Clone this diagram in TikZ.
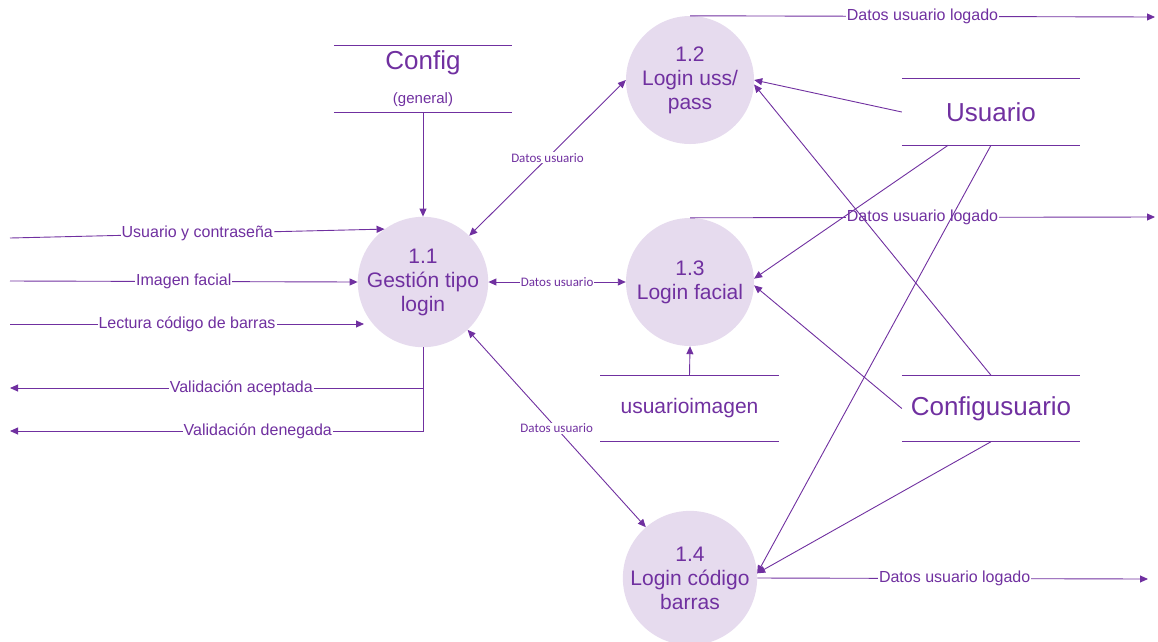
\documentclass[tikz,border=0pt]{standalone}
\usepackage{fontspec}
\setmainfont{Liberation Sans}
\newfontfamily\narrowsans{Carlito}
\usetikzlibrary{arrows.meta,calc}
\definecolor{dfdpurple}{HTML}{7030A0}
\definecolor{procfill}{HTML}{E6DBEE}
\begin{document}
\begin{tikzpicture}[x=1pt,y=-1pt,
  every node/.style={text=dfdpurple},
  process/.style={circle, fill=procfill, minimum size=128pt, inner sep=0pt,
    align=center, font=\fontsize{21}{24}\selectfont},
  store/.style={minimum width=178pt, minimum height=66pt, inner sep=0pt,
    font=\fontsize{26}{30}\selectfont},
  storeline/.style={draw=dfdpurple, line width=1.1pt},
  tip/.tip={Triangle[length=8pt,width=7pt]},
  flow/.style={draw=dfdpurple, line width=0.9pt, -tip},
  biflow/.style={draw=dfdpurple, line width=0.9pt, tip-tip},
  flowlabel/.style={fill=white, inner sep=1pt, font=\fontsize{16}{18}\selectfont},
  minilabel/.style={fill=white, inner sep=1pt, font=\narrowsans\fontsize{13}{15}\selectfont},
]
\useasboundingbox (0,0) rectangle (1158,641);

% processes
\node[process] (p11) at (423,282) {1.1\\Gestión tipo\\login};
\node[process] (p12) at (690,80) {1.2\\Login uss/\\pass};
\node[process] (p13) at (690,282) {1.3\\Login facial};
\node[process] (p14) at (690,578) {1.4\\Login código\\barras};

% data stores
\node[store] (cfg) at (423,79) {};
\draw[storeline] (cfg.north west) -- (cfg.north east) (cfg.south west) -- (cfg.south east);
\node[font=\fontsize{26}{30}\selectfont] (cfgname) at (423,63) {Config};
\node[font=\fontsize{15}{18}\selectfont] (cfgsub) at (423,100) {(general)};

\node[store] (us) at (991,112) {Usuario};
\draw[storeline] (us.north west) -- (us.north east) (us.south west) -- (us.south east);

\node[store, font=\fontsize{21}{24}\selectfont] (ui) at (689.5,408.5) {usuarioimagen};
\draw[storeline] (ui.north west) -- (ui.north east) (ui.south west) -- (ui.south east);

\node[store] (cu) at (991,408.5) {Configusuario};
\draw[storeline] (cu.north west) -- (cu.north east) (cu.south west) -- (cu.south east);

% external inputs
\coordinate (inA) at (10,238);
\coordinate (inB) at (10,281);
\coordinate (inC) at (10,324);
\coordinate (inCend) at (364,324);
\draw[flow] (inA) -- node[flowlabel]{Usuario y contraseña} (p11.126);
\draw[flow] (inB) -- node[flowlabel]{Imagen facial} (p11.west);
\draw[flow] (inC) -- node[flowlabel]{Lectura código de barras} (inCend);

% external outputs of 1.1
\coordinate (outA) at (10,388);
\coordinate (outB) at (10,431);
\draw[flow] (p11.south) |- node[flowlabel,pos=0.72]{Validación aceptada} (outA);
\draw[flow] (p11.south) |- node[flowlabel,pos=0.70]{Validación denegada} (outB);

% configuration into 1.1
\draw[flow] (cfg.south) -- (p11.north);

% 1.1 with the login processes
\draw[biflow] (p11.45) -- node[minilabel]{Datos usuario} (p12.west);
\draw[biflow] (p11.east) -- node[minilabel]{Datos usuario} (p13.west);
\draw[biflow] (p14.131) -- node[minilabel]{Datos usuario} (p11.-47);

% logged user data out
\coordinate (outU2) at (1155,17);
\coordinate (outU3) at (1155,217);
\coordinate (outU4) at (1148,579);
\draw[flow] (p12.north) -- node[flowlabel]{Datos usuario logado} (outU2);
\draw[flow] (p13.north) -- node[flowlabel]{Datos usuario logado} (outU3);
\draw[flow] (p14.east) -- node[flowlabel,pos=0.505]{Datos usuario logado} (outU4);

% stores into login processes
\draw[flow] (us.west) -- (p12.east);
\draw[flow] (cu.north) -- (p12.-4);
\draw[flow] ($(us.south west)!0.26!(us.south east)$) -- (p13.3);
\draw[flow] (cu.west) -- (p13.-3);
\draw[flow] (us.south) -- (p14.4);
\draw[flow] (cu.south) -- (p14.4);
\draw[flow] (ui.north) -- (p13.south);
\end{tikzpicture}
\end{document}
